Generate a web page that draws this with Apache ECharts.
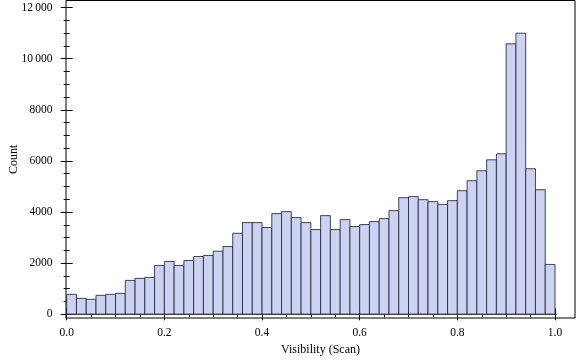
<!DOCTYPE html>
<html><head><meta charset="utf-8">
<script src="https://cdn.jsdelivr.net/npm/echarts@6/dist/echarts.min.js"></script>
<style>html,body{margin:0;padding:0;background:#fff}#c{width:576px;height:361px}</style>
</head><body><div id="c"></div>
<script>
// Histogram data: bins of width 0.02 from 0 to 1
const binWidth = 0.02;
const counts = [780,624,585,741,780,819,1326,1404,1443,1910,2067,1910,2105,2261,
  2300,2468,2651,3170,3587,3587,3392,3938,4016,3782,3587,3314,3860,3314,3704,3431,3509,3626,3743,4055,
  4562,4601,4484,4406,4300,4445,4835,5225,5615,6043,6277,10578,10995,5693,4874,1950];
const xTickLabels = ['0.0','0.2','0.4','0.6','0.8','1.0'];
const yTickLabels = ['0','2000','4000','6000','8000','10\u2009000','12\u2009000'];
const baselineX = [-0.021, 1.021];

const font = "'Liberation Serif','Times New Roman',serif";
const binData = counts.map((c, i) => [i * binWidth, (i + 1) * binWidth, c]);

const tickCommon = {
  axisLine: {show: false},
  axisTick: {show: true, inside: true, length: 6, lineStyle: {color: '#000', width: 1}},
  minorTick: {show: true, splitNumber: 4, length: 3, lineStyle: {color: '#000', width: 1}},
  splitLine: {show: false},
  minorSplitLine: {show: false}
};

const chart = echarts.init(document.getElementById('c'));
chart.setOption({
  animation: false,
  grid: [
    {left: 56.5, right: 1, top: 0.5, bottom: 40.3, show: true, borderColor: '#000', borderWidth: 1, backgroundColor: 'transparent'},
    {left: 66.7, right: 21, top: 7.5, bottom: 46.7}
  ],
  xAxis: [
    {gridIndex: 0, type: 'value', min: 0, max: 1, axisLine: {show: false}, axisTick: {show: false},
     axisLabel: {show: false}, splitLine: {show: false},
     name: 'Visibility (Scan)', nameLocation: 'middle', nameGap: 26,
     nameTextStyle: {fontFamily: font, fontSize: 12, color: '#000'}},
    Object.assign({gridIndex: 1, type: 'value', min: 0, max: 1, interval: 0.2, position: 'bottom', offset: 6.4,
     axisLabel: {show: true, margin: 6, color: '#000', fontFamily: font, fontSize: 11.5,
       formatter: v => xTickLabels[Math.round(v / 0.2)]}}, tickCommon),
    Object.assign({gridIndex: 1, type: 'value', min: 0, max: 1, interval: 0.2, position: 'top', offset: 7,
     axisLabel: {show: false}}, tickCommon)
  ],
  yAxis: [
    {gridIndex: 0, type: 'value', min: 0, max: 1, axisLine: {show: false}, axisTick: {show: false},
     axisLabel: {show: false}, splitLine: {show: false},
     name: 'Count', nameLocation: 'middle', nameGap: 46, nameRotate: 90,
     nameTextStyle: {fontFamily: font, fontSize: 12, color: '#000'}},
    Object.assign({gridIndex: 1, type: 'value', min: 0, max: 12000, interval: 2000, position: 'left', offset: 10.2,
     axisLabel: {show: true, margin: 4, color: '#000', fontFamily: font, fontSize: 11.5,
       formatter: v => yTickLabels[Math.round(v / 2000)]}}, tickCommon),
    Object.assign({gridIndex: 1, type: 'value', min: 0, max: 12000, interval: 2000, position: 'right', offset: 20,
     axisLabel: {show: false}}, tickCommon)
  ],
  series: [
    {
      type: 'custom', xAxisIndex: 1, yAxisIndex: 1, clip: false,
      data: binData,
      encode: {x: [0, 1], y: 2},
      renderItem: (params, api) => {
        const p0 = api.coord([api.value(0), 0]);
        const p1 = api.coord([api.value(1), api.value(2)]);
        return {
          type: 'rect',
          shape: {x: p0[0], y: p1[1], width: p1[0] - p0[0], height: p0[1] - p1[1]},
          style: {fill: '#cbd2f2', stroke: 'rgba(40,40,52,0.85)', lineWidth: 1}
        };
      }
    },
    {
      type: 'line', xAxisIndex: 1, yAxisIndex: 1, clip: false, symbol: 'none', silent: true,
      data: baselineX.map(x => [x, 0]),
      lineStyle: {color: 'rgba(40,40,52,0.85)', width: 1}, z: 3
    }
  ]
});
</script>
</body></html>
